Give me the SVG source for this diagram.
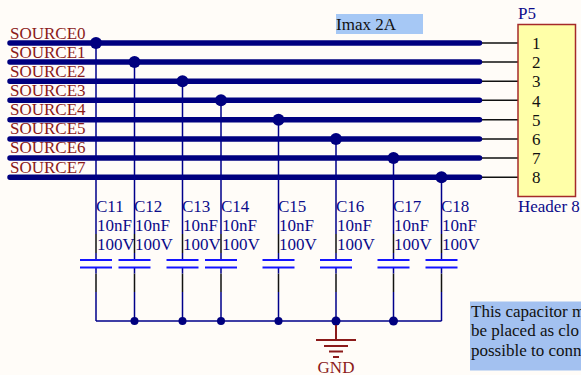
<svg xmlns="http://www.w3.org/2000/svg" width="581" height="375" viewBox="0 0 581 375">
<style>
text{font-family:"Liberation Serif","Times New Roman",serif;font-size:17px}
.net{fill:#8b1a1a}
.des{fill:#0b0b8a}
.blk{fill:#111}
.bus{stroke:#00007f;stroke-width:5.500;stroke-linecap:round;fill:none}
.pin{stroke:#111;stroke-width:1.500;fill:none}
.w{stroke:#00008b;stroke-width:1.500;fill:none}
.plate{stroke:#1414ff;stroke-width:2;fill:none}
.j{fill:#00007f}
.g{stroke:#8b1a1a;stroke-width:2;fill:none}
</style>
<rect width="581" height="375" fill="#fffcf8"/>
<rect x="336" y="14" width="87" height="20" fill="#a6c8f5"/>
<text x="336" y="30" class="blk">Imax 2A</text>
<g id="connectors">
<path class="bus" d="M10 43H479.500M10 62H479.500M10 81.300H479.500M10 100.300H479.500M10 119.700H479.500M10 139H479.500M10 158H479.500M10 177.300H479.500"/>
<path class="pin" d="M482 43H518M482 62H518M482 81.300H518M482 100.300H518M482 119.700H518M482 139H518M482 158H518M482 177.300H518"/>
<path class="w" d="M96 43V234M134.500 62V234M182.500 81V234M221 100V234M278.500 120V234M336 139V234M393.500 158V234M441.500 177V234"/>
<path class="w" d="M96 292V321M134.500 292V321M182.500 292V321M221 292V321M278.500 292V321M336 292V321M393.500 292V321M441.500 292V321M96 321H441.500"/>
<g class="j">
<circle cx="96" cy="43" r="6"/><circle cx="134.500" cy="62" r="6"/><circle cx="182.500" cy="81.300" r="6"/><circle cx="221" cy="100.300" r="6"/><circle cx="278.500" cy="119.700" r="6"/><circle cx="336" cy="139" r="6"/><circle cx="393.500" cy="158" r="6"/><circle cx="441.500" cy="177.300" r="6"/>
<circle cx="134.500" cy="321" r="4"/><circle cx="182.500" cy="321" r="4"/><circle cx="221" cy="321" r="4"/><circle cx="278.500" cy="321" r="4"/><circle cx="336" cy="321" r="4.500"/><circle cx="393.500" cy="321" r="4.500"/>
</g>
</g>
<g id="nets" class="net">
<text x="10" y="39">SOURCE0</text><text x="10" y="58">SOURCE1</text><text x="10" y="77">SOURCE2</text><text x="10" y="96">SOURCE3</text><text x="10" y="115">SOURCE4</text><text x="10" y="134">SOURCE5</text><text x="10" y="153">SOURCE6</text><text x="10" y="173">SOURCE7</text>
</g>
<g id="P5">
<rect x="518" y="24.500" width="57.500" height="172" fill="#ffffa8" stroke="#a52a2a" stroke-width="1.500"/>
<text x="518" y="19" class="des">P5</text>
<text x="518" y="212" class="des">Header 8</text>
<g class="blk"><text x="532" y="49">1</text><text x="532" y="68">2</text><text x="532" y="87">3</text><text x="532" y="107">4</text><text x="532" y="126">5</text><text x="532" y="145">6</text><text x="532" y="164">7</text><text x="532" y="183">8</text></g>
</g>
<defs>
<g id="cap">
<path class="pin" d="M0 234V253M0 273.500V292"/>
<path class="w" d="M0 253V260M0 267.500V273.500"/>
<path class="plate" d="M-16 260H16M-16 267.500H16"/>
</g>
</defs>
<g id="C11"><use href="#cap" x="96"/><g class="des"><text x="96" y="212">C11</text><text x="97" y="231">10nF</text><text x="97" y="250">100V</text></g></g>
<g id="C12"><use href="#cap" x="134.500"/><g class="des"><text x="134" y="212">C12</text><text x="135" y="231">10nF</text><text x="135" y="250">100V</text></g></g>
<g id="C13"><use href="#cap" x="182.500"/><g class="des"><text x="182" y="212">C13</text><text x="183" y="231">10nF</text><text x="183" y="250">100V</text></g></g>
<g id="C14"><use href="#cap" x="221"/><g class="des"><text x="221" y="212">C14</text><text x="222" y="231">10nF</text><text x="222" y="250">100V</text></g></g>
<g id="C15"><use href="#cap" x="278.500"/><g class="des"><text x="278" y="212">C15</text><text x="279" y="231">10nF</text><text x="279" y="250">100V</text></g></g>
<g id="C16"><use href="#cap" x="336"/><g class="des"><text x="336" y="212">C16</text><text x="337" y="231">10nF</text><text x="337" y="250">100V</text></g></g>
<g id="C17"><use href="#cap" x="393.500"/><g class="des"><text x="393" y="212">C17</text><text x="394" y="231">10nF</text><text x="394" y="250">100V</text></g></g>
<g id="C18"><use href="#cap" x="441.500"/><g class="des"><text x="441" y="212">C18</text><text x="442" y="231">10nF</text><text x="442" y="250">100V</text></g></g>
<g id="GND">
<path class="g" d="M336 325V340M316 340H356M324 346H348M329 351.500H343M333 357H339"/>
<text x="336" y="372.500" class="net" text-anchor="middle">GND</text>
</g>
<g id="note">
<rect x="470" y="301.500" width="111" height="69" fill="#a3c1f0"/>
<g class="blk"><text x="471" y="317">This capacitor m</text><text x="471" y="336">be placed as clo</text><text x="471" y="356">possible to conn</text></g>
</g>
</svg>
